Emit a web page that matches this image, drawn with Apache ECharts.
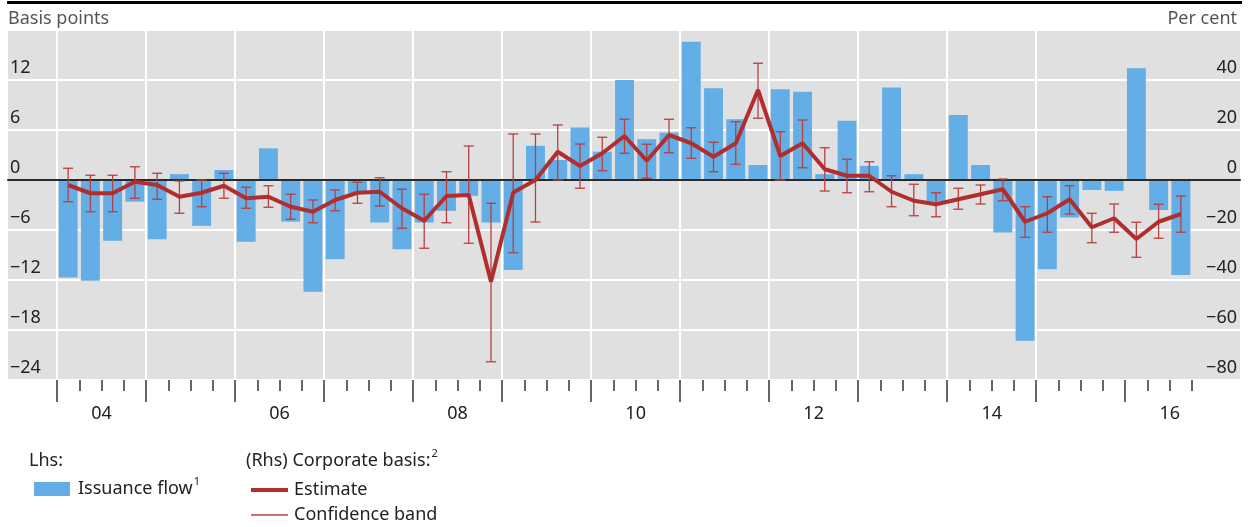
<!DOCTYPE html>
<html>
<head>
<meta charset="utf-8">
<script src="https://cdn.jsdelivr.net/npm/echarts@6/dist/echarts.min.js"></script>
<style>html,body{margin:0;padding:0;background:#fff}#c{width:1252px;height:527px}</style>
</head>
<body>
<div id="c"></div>
<script>
// Quarterly data, 2004 Q1 – 2016 Q3
const firstYear = 2004;
const issuanceFlow = [ // basis points (lhs)
  -11.7, -12.1, -7.3, -2.6,   -7.1, 0.7, -5.5, 1.2,   -7.4, 3.8, -5.0, -13.4,
  -9.5, -1.6, -5.1, -8.3,     -5.1, -3.7, -1.9, -5.1, -10.8, 4.1, 2.4, 6.3,
  3.4, 12.0, 4.9, 5.7,        16.6, 11.0, 7.3, 1.8,   10.9, 10.6, 0.7, 7.1,
  1.7, 11.1, 0.7, -2.6,       7.8, 1.8, -6.3, -19.3,  -10.7, -4.5, -1.2, -1.3,
  13.4, -3.6, -11.4
];
const basisEstimate = [ // per cent (rhs)
  -2.0, -5.3, -5.3, -0.7,   -2.0, -6.7, -5.1, -2.3,   -7.3, -6.7, -10.7, -12.7,
  -8.0, -5.1, -4.7, -11.3,  -16.3, -6.4, -6.0, -40.7, -5.0, 0.0, 11.3, 5.6,
  10.7, 17.6, 7.7, 18.0,    14.7, 9.3, 14.7, 36.0,    9.6, 14.7, 4.3, 1.7,
  1.7, -4.7, -8.3, -9.7,    -7.7, -5.7, -3.7, -16.7,  -13.3, -7.7, -18.9, -15.3,
  -23.6, -16.7, -13.6
];
const bandHigh = [
  4.7, 1.9, 1.9, 5.3,       2.7, -0.4, 0.0, 2.7,      -2.9, -2.3, -5.7, -8.0,
  -4.0, -0.9, 0.9, -3.7,    -5.7, 3.3, 13.6, -9.3,    18.4, 18.4, 22.0, 14.4,
  17.1, 24.3, 14.3, 24.3,   20.9, 15.1, 23.3, 46.7,   19.3, 24.0, 12.9, 8.3,
  7.3, 1.7, -1.7, -5.1,     -3.3, -2.0, 0.4, -10.7,   -6.7, -2.3, -13.3, -9.6,
  -16.9, -9.7, -6.4
];
const bandLow = [
  -8.7, -12.7, -12.7, -7.3, -7.7, -13.3, -10.7, -7.3, -11.3, -10.9, -15.7, -17.1,
  -12.3, -9.3, -10.4, -19.3, -27.3, -17.1, -25.3, -72.7, -29.1, -16.8, 0.0, -3.3,
  3.7, 10.7, 0.7, 10.9,     8.7, 3.3, 6.3, 24.7,      0.0, 4.9, -4.4, -5.1,
  -4.7, -10.7, -14.3, -14.7, -11.7, -9.6, -8.3, -22.9, -20.9, -13.6, -25.1, -20.9,
  -30.9, -23.3, -20.9
];
const quarters = issuanceFlow.map((_, i) => (firstYear + Math.floor(i / 4)) + ' Q' + (i % 4 + 1));
const yearLabels = ['04', '06', '08', '10', '12', '14', '16'];
const lhsTicks = [-24, -18, -12, -6, 0, 6, 12];
const rhsTicks = [-80, -60, -40, -20, 0, 20, 40];

const FONT = '"Noto Sans", "Open Sans", sans-serif';
const BLUE = '#63aee6';
const RED = '#b02f2e';
const BAND = '#b8403f';
const minus = v => String(v).replace('-', '\u2212');

const nQ = quarters.length;
const yearStarts = [];
for (let y = firstYear; (y - firstYear) * 4 < nQ; y++) yearStarts.push((y - firstYear) * 4);
const labelPos = yearLabels.map(l => (2000 + Number(l) - firstYear) * 4 + 2);

const chart = echarts.init(document.getElementById('c'), null, {renderer: 'canvas'});

function renderBand(params, api) {
  const x = api.value(0);
  const hi = api.coord([x, api.value(1)]);
  const lo = api.coord([x, api.value(2)]);
  const cap = 5;
  const style = {stroke: BAND, lineWidth: 1.3, fill: null};
  return {
    type: 'group',
    children: [
      {type: 'line', shape: {x1: hi[0], y1: hi[1], x2: lo[0], y2: lo[1]}, style},
      {type: 'line', shape: {x1: hi[0] - cap, y1: hi[1], x2: hi[0] + cap, y2: hi[1]}, style},
      {type: 'line', shape: {x1: lo[0] - cap, y1: lo[1], x2: lo[0] + cap, y2: lo[1]}, style}
    ]
  };
}

const lhsMin = lhsTicks[0], lhsStep = lhsTicks[1] - lhsTicks[0], lhsMax = lhsTicks[lhsTicks.length - 1] + lhsStep;
const rhsMin = rhsTicks[0], rhsStep = rhsTicks[1] - rhsTicks[0], rhsMax = rhsTicks[rhsTicks.length - 1] + rhsStep;

const supRich = {s: {fontSize: 11, lineHeight: 11, verticalAlign: 'top', color: '#222', fill: '#222', fontFamily: FONT, padding: [0, 0, 0, 1]}};

const option = {
  animation: false,
  textStyle: {fontFamily: FONT},
  grid: [
    {left: 8, right: 12, top: 30, bottom: 147, show: true, backgroundColor: '#e0e0e0', borderWidth: 0},
    {left: 57, right: 60, top: 30, bottom: 147}
  ],
  xAxis: [
    { // zero line across the panel
      gridIndex: 0, type: 'value', min: 0, max: 1, z: 3,
      axisLine: {show: true, onZero: true, onZeroAxisIndex: 0, lineStyle: {color: '#2a2a2a', width: 2}},
      axisTick: {show: false}, axisLabel: {show: false}, splitLine: {show: false}
    },
    { // quarters: short ticks
      gridIndex: 1, type: 'category', data: quarters, boundaryGap: true, position: 'bottom',
      axisLine: {show: false, onZero: false},
      axisTick: {show: true, interval: 0, length: 11, lineStyle: {color: '#333', width: 1.5}},
      axisLabel: {show: false}, splitLine: {show: false}
    },
    { // years: long ticks, vertical grid lines, labels
      gridIndex: 1, type: 'value', min: 0, max: nQ, interval: 4, position: 'bottom',
      axisLine: {show: false, onZero: false},
      axisTick: {show: true, length: 22, customValues: yearStarts, lineStyle: {color: '#333', width: 1.5}},
      splitLine: {show: true, showMaxLine: false, lineStyle: {color: '#ffffff', width: 2}},
      axisLabel: {
        show: true, customValues: labelPos, margin: 25, fontSize: 18, color: '#222', fontFamily: FONT,
        formatter: v => yearLabels[labelPos.indexOf(v)] || ''
      }
    }
  ],
  yAxis: [
    {
      gridIndex: 0, type: 'value', position: 'left', min: lhsMin, max: lhsMax, interval: lhsStep,
      axisLine: {show: false}, axisTick: {show: false},
      axisLabel: {inside: true, margin: 2, verticalAlign: 'bottom', padding: [0, 0, 3, 0], fontSize: 18, color: '#222',
        fontFamily: FONT, showMaxLabel: false, formatter: v => lhsTicks.includes(v) ? minus(v) : ''},
      splitLine: {show: true, lineStyle: {color: '#ffffff', width: 2}}
    },
    {
      gridIndex: 0, type: 'value', position: 'right', min: rhsMin, max: rhsMax, interval: rhsStep,
      axisLine: {show: false}, axisTick: {show: false},
      axisLabel: {inside: true, margin: 3, verticalAlign: 'bottom', padding: [0, 0, 3, 0], fontSize: 18, color: '#222',
        fontFamily: FONT, showMaxLabel: false, formatter: v => rhsTicks.includes(v) ? minus(v) : ''},
      splitLine: {show: false}
    },
    {gridIndex: 1, type: 'value', min: lhsMin, max: lhsMax, interval: lhsStep, show: false, splitLine: {show: false}},
    {gridIndex: 1, type: 'value', min: rhsMin, max: rhsMax, interval: rhsStep, show: false, splitLine: {show: false}}
  ],
  legend: [
    {
      left: 29, top: 471, itemWidth: 36, itemHeight: 14, selectedMode: false,
      data: [{name: 'Issuance flow', icon: 'rect'}],
      formatter: n => '{m|' + n + '}{s|1}',
      textStyle: {fontSize: 18, color: '#222', fontFamily: FONT, padding: [0, 0, 0, 3],
        rich: Object.assign({m: {fontSize: 18, lineHeight: 26, color: '#222', fontFamily: FONT}}, supRich)}
    },
    {
      left: 246, top: 476, itemWidth: 37, itemHeight: 4, selectedMode: false,
      data: [{name: 'Estimate', icon: 'rect'}],
      textStyle: {fontSize: 18, color: '#222', fontFamily: FONT, padding: [0, 0, 0, 1]}
    },
    {
      left: 246, top: 501, itemWidth: 37, itemHeight: 1.5, selectedMode: false,
      data: [{name: 'Confidence band', icon: 'rect'}],
      textStyle: {fontSize: 18, color: '#222', fontFamily: FONT, padding: [0, 0, 0, 1]}
    }
  ],
  graphic: [
    {type: 'rect', left: 7, top: 1, shape: {width: 1235, height: 3}, style: {fill: '#000'}},
    {type: 'text', left: 8, top: 10, style: {text: 'Basis points', fontSize: 18, fontFamily: FONT, fill: '#555'}},
    {type: 'text', right: 15, top: 10, style: {text: 'Per cent', fontSize: 18, fontFamily: FONT, fill: '#555'}},
    {type: 'text', left: 29, top: 452, style: {text: 'Lhs:', fontSize: 18, fontFamily: FONT, fill: '#222'}},
    {type: 'text', left: 246, top: 448, style: {
      text: '{m|(Rhs) Corporate basis:}{s|2}', fontSize: 18, fontFamily: FONT, fill: '#222',
      rich: Object.assign({m: {fontSize: 18, lineHeight: 26, fill: '#222', fontFamily: FONT}}, supRich)
    }}
  ],
  series: [
    {
      name: 'Issuance flow', type: 'bar', xAxisIndex: 1, yAxisIndex: 2, data: issuanceFlow,
      barCategoryGap: '15%', itemStyle: {color: BLUE}, z: 2
    },
    {
      name: 'Confidence band', type: 'custom', xAxisIndex: 1, yAxisIndex: 3,
      data: quarters.map((q, i) => [i, bandHigh[i], bandLow[i]]),
      encode: {x: 0, y: [1, 2]}, renderItem: renderBand, itemStyle: {color: BAND}, z: 4
    },
    {
      name: 'Estimate', type: 'line', xAxisIndex: 1, yAxisIndex: 3, data: basisEstimate,
      symbol: 'none', lineStyle: {color: RED, width: 4}, itemStyle: {color: RED}, z: 5
    }
  ]
};
chart.setOption(option);
</script>
</body>
</html>
